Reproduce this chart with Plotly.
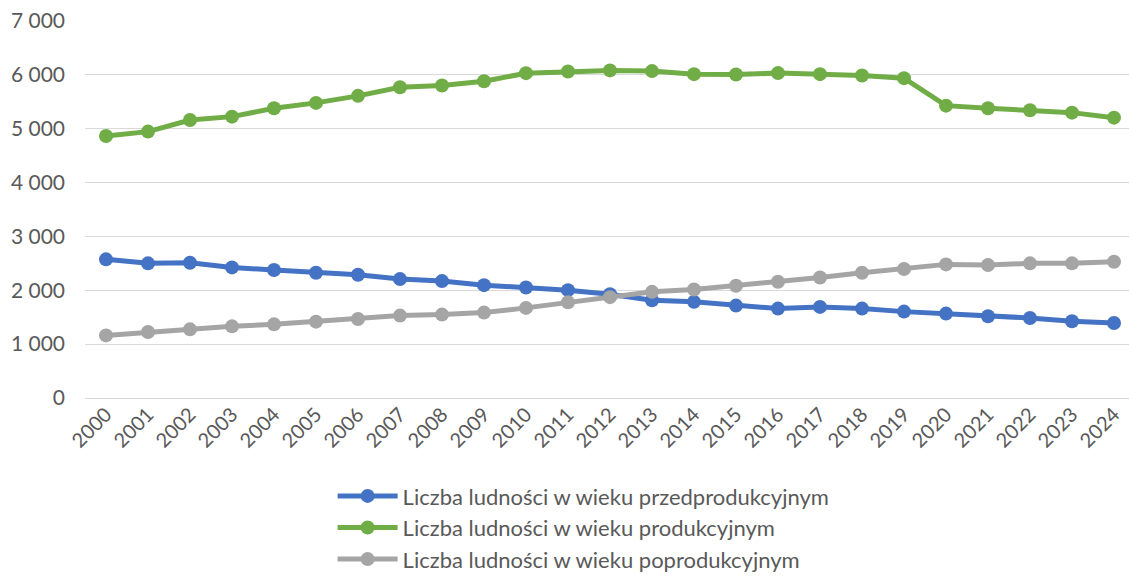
import plotly.graph_objects as go

years = [str(y) for y in range(2000, 2025)]
przed = [2571, 2497, 2509, 2422, 2373, 2323, 2286, 2205, 2168, 2093, 2050, 2000, 1925,
         1814, 1783, 1714, 1658, 1689, 1658, 1602, 1565, 1516, 1484, 1422, 1391]
prod = [4858, 4940, 5156, 5218, 5373, 5473, 5603, 5763, 5795, 5875, 6024, 6056, 6075,
        6062, 6006, 6000, 6025, 6006, 5981, 5932, 5422, 5373, 5335, 5292, 5199]
popro = [1161, 1224, 1273, 1329, 1366, 1416, 1466, 1528, 1547, 1584, 1671, 1776, 1870,
         1969, 2012, 2081, 2155, 2236, 2323, 2391, 2478, 2466, 2497, 2497, 2528]
names = ["Liczba ludności w wieku przedprodukcyjnym",
         "Liczba ludności w wieku produkcyjnym",
         "Liczba ludności w wieku poprodukcyjnym"]
colors = ["#4472C4", "#70AD47", "#A5A5A5"]
y_ticks = [0, 1000, 2000, 3000, 4000, 5000, 6000, 7000]

fig = go.Figure()
for i, (vals, name, col) in enumerate(zip([przed, prod, popro], names, colors)):
    fig.add_trace(go.Scatter(
        x=years, y=vals, name=name, mode="lines+markers",
        legendgroup=f"g{i}",
        line=dict(color=col, width=5),
        marker=dict(color=col, size=14),
    ))

font_family = "Lato, 'Open Sans', sans-serif"
fig.update_layout(
    width=1137, height=581,
    margin=dict(l=77, r=10, t=12, b=191, autoexpand=False),
    plot_bgcolor="white", paper_bgcolor="white",
    separators=", ",
    font=dict(family=font_family, size=21, color="#595959"),
    xaxis=dict(type="category", range=[-0.5, 24.5], tickangle=-45,
               showgrid=False, showline=False, ticks="",
               tickfont=dict(size=20, color="#595959")),
    yaxis=dict(range=[0, 7010], tickvals=y_ticks, tickformat=",d",
               showgrid=True, gridcolor="#D9D9D9", gridwidth=1,
               zeroline=True, zerolinecolor="#D9D9D9", zerolinewidth=1,
               showline=False, ticks="", ticklabelstandoff=19,
               ticklabeloverflow="allow",
               tickfont=dict(size=21, color="#595959")),
    legend=dict(orientation="v", xref="container", yref="container",
                x=0.2855, xanchor="left", y=0.196, yanchor="top",
                font=dict(size=22, color="#595959"), tracegroupgap=12,
                itemwidth=60, traceorder="normal"),
    showlegend=True,
)

fig.write_html("out.html")
